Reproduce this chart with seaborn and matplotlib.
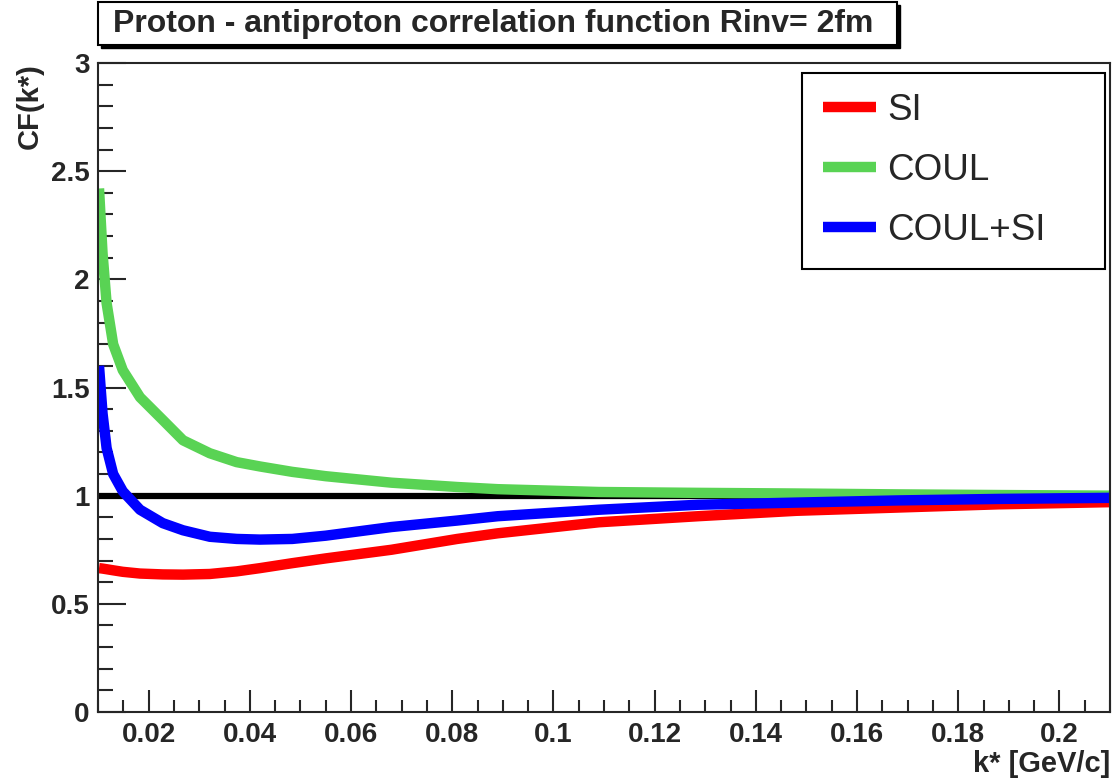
import numpy as np
import pandas as pd
import seaborn as sns
import matplotlib
matplotlib.use("Agg")
import matplotlib.pyplot as plt
from matplotlib.patches import Rectangle
from matplotlib.ticker import MultipleLocator

# 数据
k = [0.0102, 0.0109, 0.0117, 0.013, 0.0149, 0.0183, 0.0228, 0.0268, 0.0321, 0.0374,
     0.042, 0.0484, 0.055, 0.068, 0.081, 0.089, 0.109, 0.1286, 0.148, 0.168,
     0.188, 0.21]
si = [0.665, 0.663, 0.66, 0.655, 0.648, 0.64, 0.636, 0.635, 0.638, 0.65,
      0.665, 0.688, 0.71, 0.75, 0.80, 0.826, 0.877, 0.905, 0.93, 0.945,
      0.96, 0.97]
coul = [2.42, 2.12, 1.89, 1.70, 1.58, 1.455, 1.35, 1.256, 1.196, 1.155,
        1.135, 1.11, 1.09, 1.06, 1.04, 1.03, 1.017, 1.013, 1.01, 1.006,
        1.003, 1.0]
coul_si = [1.60, 1.38, 1.22, 1.10, 1.02, 0.935, 0.873, 0.84, 0.81, 0.80,
           0.797, 0.80, 0.815, 0.855, 0.885, 0.905, 0.935, 0.958, 0.968, 0.978,
           0.985, 0.99]
labels = ["SI", "COUL", "COUL+SI"]
colors = ["#ff0000", "#59d354", "#0000ff"]

df = pd.concat([
    pd.DataFrame({"k": k, "cf": si, "model": "SI"}),
    pd.DataFrame({"k": k, "cf": coul, "model": "COUL"}),
    pd.DataFrame({"k": k, "cf": coul_si, "model": "COUL+SI"}),
])

sns.set_style("ticks")
plt.rcParams["font.family"] = ["Liberation Sans", "DejaVu Sans"]

fig = plt.figure(figsize=(11.13, 7.8), dpi=100)
ax = fig.add_axes([98 / 1113, 1 - 712 / 780, 1012 / 1113, 649 / 780])

# 参考线 y=1
ax.plot([0.01, 0.21], [1, 1], color="black", lw=4.5, zorder=1)

sns.lineplot(data=df, x="k", y="cf", hue="model", hue_order=labels,
             palette=colors, lw=7.5, ax=ax, zorder=2, sort=False)
for ln in ax.get_lines():
    ln.set_solid_capstyle("butt")
    ln.set_solid_joinstyle("round")

ax.set_xlim(0.01, 0.21)
ax.set_ylim(0, 3)
ax.xaxis.set_minor_locator(MultipleLocator(0.005))
ax.yaxis.set_minor_locator(MultipleLocator(0.1))
ax.set_xticks(np.arange(0.02, 0.201, 0.02))
ax.set_xticklabels(["0.02", "0.04", "0.06", "0.08", "0.1", "0.12", "0.14", "0.16", "0.18", "0.2"])
ax.set_yticks([0, 0.5, 1, 1.5, 2, 2.5, 3])
ax.set_yticklabels(["0", "0.5", "1", "1.5", "2", "2.5", "3"])

ax.tick_params(axis="x", which="major", direction="in", length=16, width=1.5,
               labelsize=20, pad=7)
ax.tick_params(axis="x", which="minor", direction="in", length=9, width=1.5)
ax.tick_params(axis="y", which="major", direction="in", length=20, width=1.5,
               labelsize=20, pad=6)
ax.tick_params(axis="y", which="minor", direction="in", length=11, width=1.5)
for lab in ax.get_xticklabels() + ax.get_yticklabels():
    lab.set_fontweight("bold")
for sp in ax.spines.values():
    sp.set_visible(True)
    sp.set_linewidth(1.5)

ax.set_xlabel("k* [GeV/c]", fontsize=21, fontweight="bold", loc="right")
ax.xaxis.set_label_coords(1.0, -0.058)
ax.set_ylabel("CF(k*)", fontsize=21, fontweight="bold", loc="top")
ax.yaxis.set_label_coords(-0.054, 1.0)

leg = ax.legend(loc="upper left", bbox_to_anchor=(0.696, 0.698, 0.2994, 0.2866),
                mode="expand", fontsize=26.5,
                frameon=True, fancybox=False, edgecolor="black", framealpha=1,
                handlelength=1.45, handletextpad=0.3, labelspacing=0.68,
                borderpad=0.55, borderaxespad=0)
leg.get_frame().set_linewidth(1.5)
for h in leg.get_lines():
    h.set_linewidth(7.5)

# 标题框（带阴影）
fig.add_artist(Rectangle((101 / 1113, 1 - 48 / 780), 799 / 1113, 43 / 780,
                         transform=fig.transFigure, facecolor="black", edgecolor="black"))
fig.add_artist(Rectangle((98 / 1113, 1 - 45 / 780), 799 / 1113, 43 / 780,
                         transform=fig.transFigure, facecolor="white",
                         edgecolor="black", lw=1.5))
fig.text(113 / 1113, 1 - 24 / 780, "Proton - antiproton correlation function Rinv= 2fm",
         fontsize=23, fontweight="bold", ha="left", va="center")

fig.savefig("out.png", dpi=100)
